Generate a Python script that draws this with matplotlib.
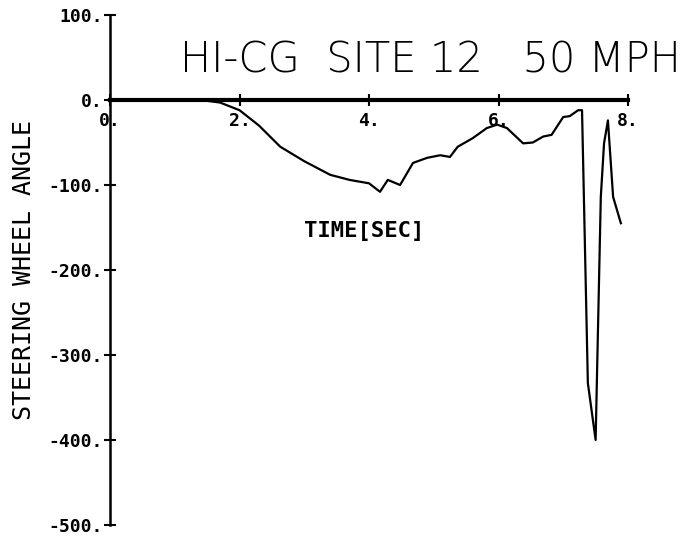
import matplotlib
matplotlib.use("Agg")
import matplotlib.pyplot as plt

# data
time_s = [0.0, 0.8, 1.4, 1.7, 2.0, 2.3, 2.63, 3.0, 3.4, 3.7, 4.0, 4.17, 4.29, 4.48,
          4.68, 4.9, 5.1, 5.25, 5.37, 5.6, 5.82, 5.98, 6.13, 6.38, 6.53, 6.69, 6.82,
          7.0, 7.1, 7.23, 7.29, 7.38, 7.5, 7.58, 7.63, 7.69, 7.77, 7.89]
angle = [0.0, 0.0, 0.0, -3.0, -12.0, -30.0, -55.0, -72.0, -88.0, -94.0, -98.0, -108.0,
         -94.0, -100.0, -74.0, -68.0, -65.0, -67.0, -55.0, -45.0, -33.0, -29.0, -33.0,
         -51.0, -50.0, -43.0, -41.0, -20.0, -19.0, -12.0, -12.0, -333.0, -400.0, -114.0,
         -51.0, -24.0, -114.0, -145.0]

x_ticks = [0, 2, 4, 6, 8]
x_tick_labels = ["0.", "2.", "4.", "6.", "8."]
y_ticks = [100, 0, -100, -200, -300, -400, -500]
y_tick_labels = ["100.", "0.", "-100.", "-200.", "-300.", "-400.", "-500."]

title_text = "HI-CG  SITE 12   50 MPH"
x_label = "TIME[SEC]"
y_label = "STEERING WHEEL ANGLE"

mono = "DejaVu Sans Mono"

fig = plt.figure(figsize=(6.96, 5.43), dpi=100)
ax = fig.add_axes([110/696, 1-525/543, (628-110)/696, (525-15)/543])
ax.set_xlim(0, 8)
ax.set_ylim(-500, 100)

ax.plot(time_s, angle, color="black", lw=1.6, clip_on=False)

for s in ["top", "right"]:
    ax.spines[s].set_visible(False)
ax.spines["bottom"].set_position(("data", 0))
ax.spines["bottom"].set_linewidth(3)
ax.spines["left"].set_linewidth(1.8)

ax.set_xticks(x_ticks)
ax.set_xticklabels(x_tick_labels, fontsize=13, fontweight="bold", family=mono)
ax.set_yticks(y_ticks)
ax.set_yticklabels(y_tick_labels, fontsize=13, fontweight="bold", family=mono)
ax.tick_params(axis="x", direction="inout", length=8, width=1.5, pad=5)
ax.tick_params(axis="y", direction="inout", length=8, width=1.5, pad=1)

ax.text(3.92, -154, x_label, fontsize=16, fontweight="bold", ha="center", va="center",
        family=mono)
fig.text(24/696, 1-270/543, y_label, rotation=90, fontsize=18, ha="center", va="center",
         family=mono)
fig.text(430/696, 1-60/543, title_text, fontsize=30, ha="center", va="center",
         family="DejaVu Sans", fontweight="light")

fig.savefig("out.png", dpi=100)
